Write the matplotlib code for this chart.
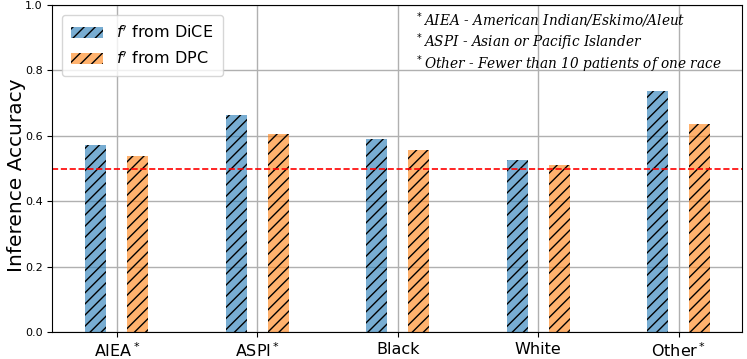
import matplotlib
matplotlib.use("Agg")
import matplotlib.pyplot as plt
import numpy as np

groups = ["AIEA$^*$", "ASPI$^*$", "Black", "White", "Other$^*$"]
dice_acc = [0.572, 0.664, 0.590, 0.526, 0.737]
dpc_acc = [0.538, 0.605, 0.557, 0.511, 0.636]
notes = [
    "$^*$AIEA - American Indian/Eskimo/Aleut",
    "$^*$ASPI - Asian or Pacific Islander",
    "$^*$Other - Fewer than 10 patients of one race",
]

fig = plt.figure(figsize=(7.47, 3.59), dpi=100)
ax = fig.add_axes([0.07, 0.075, 0.923, 0.911])

x = np.arange(len(groups))
width = 0.15
ax.bar(x - 0.15, dice_acc, width, color="C0", alpha=0.6, hatch="///", label="$f'$ from DiCE")
ax.bar(x + 0.15, dpc_acc, width, color="C1", alpha=0.6, hatch="///", label="$f'$ from DPC")
ax.axhline(0.5, color="red", linestyle="--", linewidth=1.2)

ax.set_xticks(x)
ax.set_xticklabels(groups, fontsize=11.5)
ax.tick_params(axis="y", labelsize=8)
ax.set_ylim(0, 1.0)
ax.set_xlim(-0.46, 4.45)
ax.set_ylabel("Inference Accuracy", fontsize=14.5)
ax.yaxis.set_label_coords(-0.038, 0.48)
ax.grid(True, color="#b0b0b0", linewidth=1)
ax.set_axisbelow(True)

ax.legend(loc="upper left", fontsize=11.5, handlelength=2.0, labelspacing=0.5,
          borderpad=0.6, borderaxespad=0.6)

for i, note in enumerate(notes):
    ax.text(0.526, 0.985 - i * 0.067, note, transform=ax.transAxes, fontsize=9.8,
            family="DejaVu Serif", style="italic", va="top")

fig.savefig("out.png", dpi=100)
